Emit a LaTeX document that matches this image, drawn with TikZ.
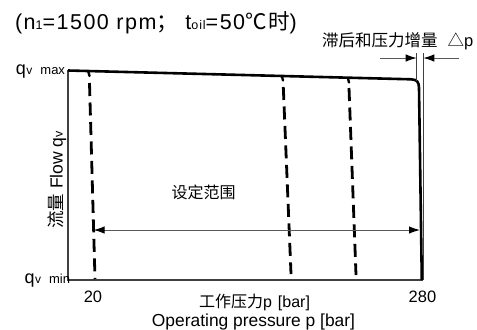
\documentclass[tikz,border=0pt]{standalone}
\usepackage{fontspec}
\setmainfont{Liberation Sans}
\newfontfamily\cjk{Noto Sans CJK SC}
\newfontfamily\titlefont[LetterSpace=7]{Liberation Sans}
\newfontfamily\titlecjk[LetterSpace=7]{Noto Sans CJK SC}
\usetikzlibrary{arrows.meta}
\newcommand\fs[1]{\fontsize{#1bp}{#1bp}\selectfont}
\begin{document}
\begin{tikzpicture}[x=1bp,y=-1bp,
  axisline/.style={line width=1.2bp, draw=black!75},
  maincurve/.style={line width=2.6bp, line join=round},
  dline/.style={line width=2.8bp, dash pattern=on 13bp off 6.5bp},
  kink/.style={line width=2.4bp, line cap=round},
  guide/.style={line width=0.8bp, draw=black!75},
  dimarrow/.style={line width=1bp, draw=black!65},
  tip/.tip={Latex[length=11bp,width=7.5bp,color=black]},
  lbl/.style={inner sep=0pt, outer sep=0pt}]
\useasboundingbox (0,0) rectangle (477,329);

% title
\node[lbl, anchor=base west] (title) at (15,29.5)
  {\titlefont\fs{21.5}(n{\fs{12.5}1}=1500 rpm{\titlecjk ；} t{\fs{12.5}oil}=50{\titlecjk ℃时})};

% axes
\coordinate (T) at (68,70);
\coordinate (O) at (68,280);
\coordinate (X) at (423,280);
\draw[axisline] (T) -- (O) -- (X);

% main curve
\coordinate (c0) at (68,70.5);
\coordinate (c1) at (411,79.3);
\coordinate (c2) at (419,88);
\coordinate (c3) at (421.8,280);
\draw[maincurve] (c0) -- (c1) .. controls (417,79.5) and (419,82) .. (c2) -- (c3);

% delta p guides
\coordinate (g1t) at (416.7,53);
\coordinate (g1b) at (416.7,81);
\coordinate (g2t) at (423.3,53);
\coordinate (g2b) at (423.3,280);
\draw[guide] (g1t) -- (g1b);
\draw[guide] (g2t) -- (g2b);
\coordinate (d1s) at (380,58);
\coordinate (d1e) at (416.7,58);
\coordinate (d2s) at (459,58);
\coordinate (d2e) at (423.3,58);
\draw[dimarrow, -tip] (d1s) -- (d1e);
\draw[dimarrow, -tip] (d2s) -- (d2e);
\node[lbl, anchor=base west] (dp) at (322,46)
  {\fs{16.5}{\cjk 滞后和压力增量}\hspace{10bp}{\cjk △}p};

% dashed lines
\coordinate (k1a) at (88.3,71.5);
\coordinate (k1b) at (89.5,76);
\coordinate (l1t) at (89.5,83);
\coordinate (l1b) at (95,279);
\draw[kink] (k1a) -- (k1b);
\draw[dline] (l1t) -- (l1b);
\coordinate (k2a) at (282,76.5);
\coordinate (k2b) at (283,80.5);
\coordinate (l2t) at (283.3,87);
\coordinate (l2b) at (291,274);
\draw[kink] (k2a) -- (k2b);
\draw[dline] (l2t) -- (l2b);
\coordinate (k3a) at (348,78.5);
\coordinate (k3b) at (349,82.5);
\coordinate (l3t) at (349,88);
\coordinate (l3b) at (356,275);
\draw[kink] (k3a) -- (k3b);
\draw[dline] (l3t) -- (l3b);

% range arrow
\coordinate (a1) at (93.6,230);
\coordinate (a2) at (420,230);
\draw[dimarrow, tip-tip] (a1) -- (a2);
\node[lbl] (range) at (203.5,192) {\fs{16}\cjk 设定范围};

% axis labels
\node[lbl, anchor=base east] (qmax) at (65,74.5)
  {\fs{18}q\kern0.5bp{\fs{12}v}\kern8bp{\fs{13}max}};
\node[lbl, anchor=base east] (qmin) at (70,283.5)
  {\fs{18}q\kern0.5bp{\fs{12}v}\kern8bp{\fs{13}min}};
\node[lbl, rotate=90] (ylab) at (57,180)
  {\fs{17.5}{\cjk 流量} Flow q{\fs{12.5}v}};

\node[lbl, anchor=base] (n20) at (93,302) {\fs{16.5}20};
\node[lbl, anchor=base] (n280) at (422.5,302) {\fs{16.5}280};
\node[lbl, anchor=base] (xcn) at (254.5,307)
  {\fs{16}{\cjk 工作压力}p\hspace{6bp}[bar]};
\node[lbl, anchor=base] (xen) at (253.5,326.5)
  {\fs{17.4}Operating pressure p [bar]};
\end{tikzpicture}
\end{document}
